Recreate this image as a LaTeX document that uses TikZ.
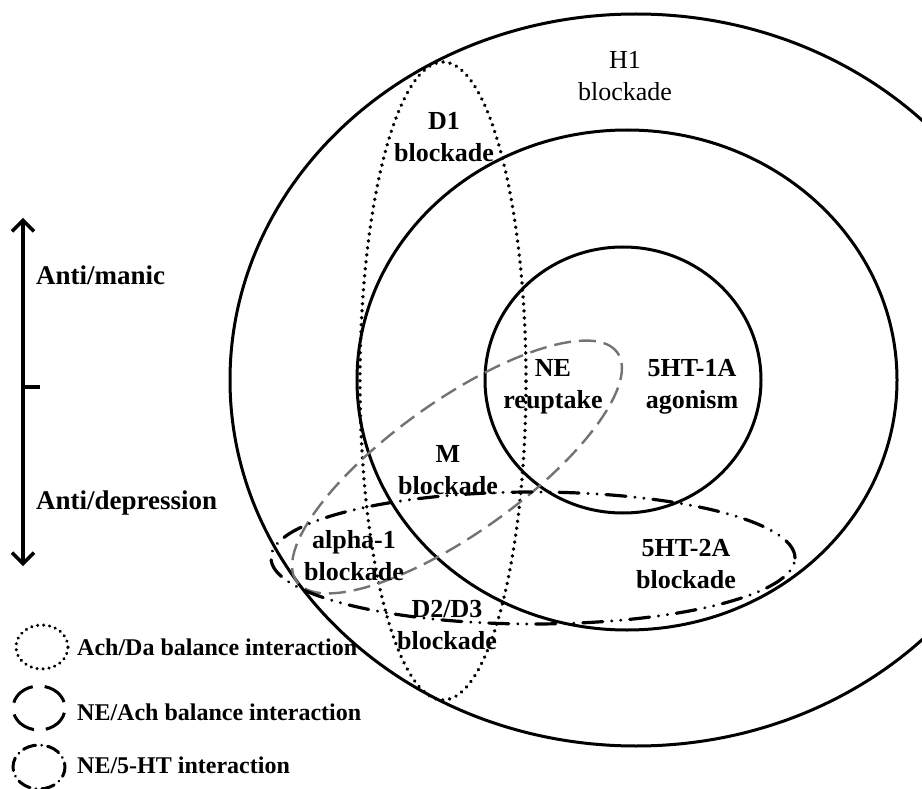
\documentclass[tikz,border=0pt]{standalone}
\usepackage{fontspec}
\setmainfont{Liberation Serif}
\usetikzlibrary{arrows.meta}

\tikzset{
  ring/.style={draw=black, line width=3pt},
  dotline/.style={draw=black, line width=3.8pt, line cap=round, dash pattern=on 0.01pt off 7pt},
  greydash/.style={draw=black!55, line width=2.4pt, dash pattern=on 17pt off 8pt},
  dashdotdot/.style={draw=black, line width=3.2pt, line cap=round,
    dash pattern=on 20pt off 9pt on 0.01pt off 9pt on 0.01pt off 9pt},
  dashdot/.style={draw=black, line width=3pt, line cap=round,
    dash pattern=on 13pt off 6pt on 0.01pt off 6pt},
  bigdash/.style={draw=black, line width=3pt, dash pattern=on 26pt off 12pt, dash phase=32pt},
  lab/.style={align=center, font=\fontsize{26}{32}\selectfont\bfseries, inner sep=0pt},
  labr/.style={align=center, font=\fontsize{26}{32}\selectfont, inner sep=0pt},
  side/.style={anchor=west, font=\fontsize{27}{32}\selectfont\bfseries, inner sep=0pt},
  legend/.style={anchor=west, font=\fontsize{24}{28}\selectfont\bfseries, inner sep=0pt},
}

\begin{document}
\begin{tikzpicture}[x=1pt, y=-1pt]
\path[use as bounding box] (0,0) rectangle (922,789);
\clip (0,0) rectangle (922,789);

% nested receptor rings
\draw[ring] (636,380) ellipse [x radius=406pt, y radius=366pt];
\draw[ring] (627,380) ellipse [x radius=270pt, y radius=250pt];
\draw[ring] (623,380) ellipse [x radius=138pt, y radius=133pt];

% interaction ellipses
\draw[dotline] (443,381) ellipse [x radius=83pt, y radius=319pt];
\draw[greydash, rotate around={35.5:(457,467)}] (457,467) ellipse [x radius=197pt, y radius=66pt];
\draw[dashdotdot] (533,558) ellipse [x radius=262pt, y radius=66pt];

% labels
\node[labr] (h1)   at (625,76)  {H1\\blockade};
\node[lab]  (d1)   at (444,137) {D1\\blockade};
\node[lab]  (ne)   at (553,387) {NE\\reuptake};
\node[lab]  (ht1a) at (692,387) {5HT-1A\\agonism};
\node[lab]  (m)    at (448,470) {M\\blockade};
\node[lab]  (a1)   at (354,556) {alpha-1\\blockade};
\node[lab]  (ht2a) at (686,564) {5HT-2A\\blockade};
\node[lab]  (d23)  at (447,625) {D2/D3\\blockade};

% mood axis
\coordinate (up) at (23,218);
\coordinate (dn) at (23,566);
\coordinate (mid) at (23,387);
\coordinate (tick) at (40,387);
\draw[line width=3.4pt, {Straight Barb[length=11pt,width=22pt]}-{Straight Barb[length=11pt,width=22pt]}] (dn) -- (up);
\draw[line width=3.4pt] (mid) -- (tick);
\node[side] (manic) at (36,275) {Anti/manic};
\node[side] (dep)   at (36,503) {Anti/depression};

% legend
\draw[dotline, line width=3.4pt, dash pattern=on 0.01pt off 6pt] (42,647) ellipse [x radius=26pt, y radius=22pt];
\node[legend] (l1) at (77,647) {Ach/Da balance interaction};
\draw[bigdash] (39,708) ellipse [x radius=26pt, y radius=22pt];
\node[legend] (l2) at (77,712) {NE/Ach balance interaction};
\draw[dashdot, dash phase=9pt] (39,767) ellipse [x radius=26pt, y radius=22pt];
\node[legend] (l3) at (77,765) {NE/5-HT interaction};
\end{tikzpicture}
\end{document}
